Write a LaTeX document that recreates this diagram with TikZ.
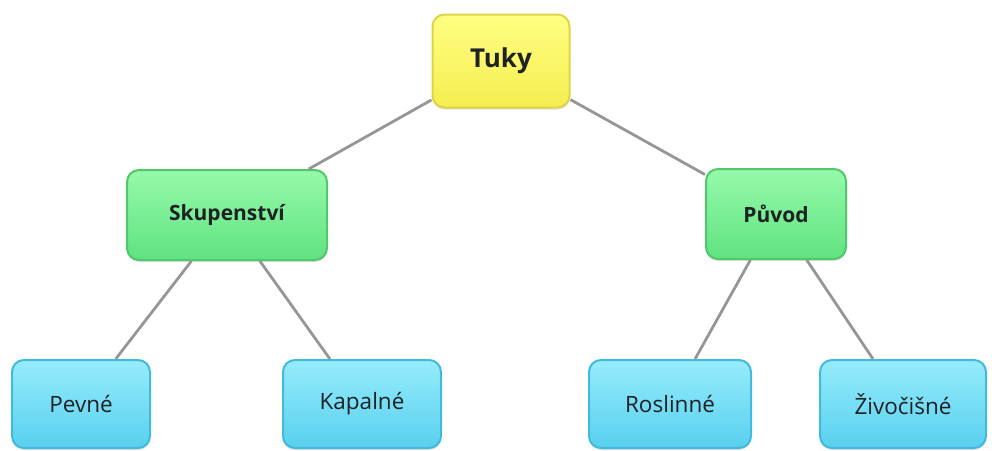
\documentclass[tikz,border=0pt]{standalone}
\usepackage{fontspec}
\setmainfont{Open Sans}
\usepackage{tikz}
\definecolor{Zlt}{RGB}{255,255,130}
\definecolor{Zlt1}{RGB}{245,238,80}
\definecolor{ZltB}{RGB}{222,212,70}
\definecolor{Zel}{RGB}{150,250,170}
\definecolor{Zel1}{RGB}{96,226,128}
\definecolor{ZelB}{RGB}{80,200,108}
\definecolor{Mod}{RGB}{150,236,252}
\definecolor{Mod1}{RGB}{88,208,238}
\definecolor{ModB}{RGB}{66,186,220}
\definecolor{Car}{RGB}{150,150,150}
\definecolor{Txt}{RGB}{30,34,36}
\usetikzlibrary{shadows}

\tikzset{
  box/.style={rounded corners=12pt, line width=2pt, inner sep=0pt, text=Txt,
              drop shadow={shadow xshift=0pt, shadow yshift=-2pt, opacity=0.25}},
  koren/.style={box, top color=Zlt, bottom color=Zlt1, draw=ZltB,
                font=\fontsize{26}{30}\selectfont\bfseries},
  vetev/.style={box, top color=Zel, bottom color=Zel1, draw=ZelB,
                font=\fontsize{21}{24}\selectfont\bfseries},
  list/.style={box, top color=Mod, bottom color=Mod1, draw=ModB,
               font=\fontsize{22.5}{26}\selectfont, minimum height=88pt},
  hrana/.style={draw=Car, line width=2.8pt}
}

\begin{document}
\begin{tikzpicture}[x=1pt, y=-1pt]
    \useasboundingbox (0,0) rectangle (992,450);
    \node [koren, minimum width=137pt, minimum height=93pt] (tuky) at (501,61) {Tuky};
    \node [vetev, minimum width=200pt, minimum height=90pt] (skup) at (227,215) {Skupenství};
    \node [vetev, minimum width=140pt, minimum height=90pt] (puvod) at (776,214) {Původ};
    \node [list, minimum width=138pt] (pevne) at (81,404) {Pevné};
    \node [list, minimum width=158pt] (kapal) at (362,404) {Kapalné};
    \node [list, minimum width=162pt] (rosl) at (670,404) {Roslinné};
    \node [list, minimum width=166pt] (ziv) at (903,404) {Živočišné};
    \draw [hrana] (tuky) -- (skup);
    \draw [hrana] (tuky) -- (puvod);
    \draw [hrana] (skup) -- (pevne);
    \draw [hrana] (skup) -- (kapal);
    \draw [hrana] (puvod) -- (rosl);
    \draw [hrana] (puvod) -- (ziv);
\end{tikzpicture}
\end{document}
